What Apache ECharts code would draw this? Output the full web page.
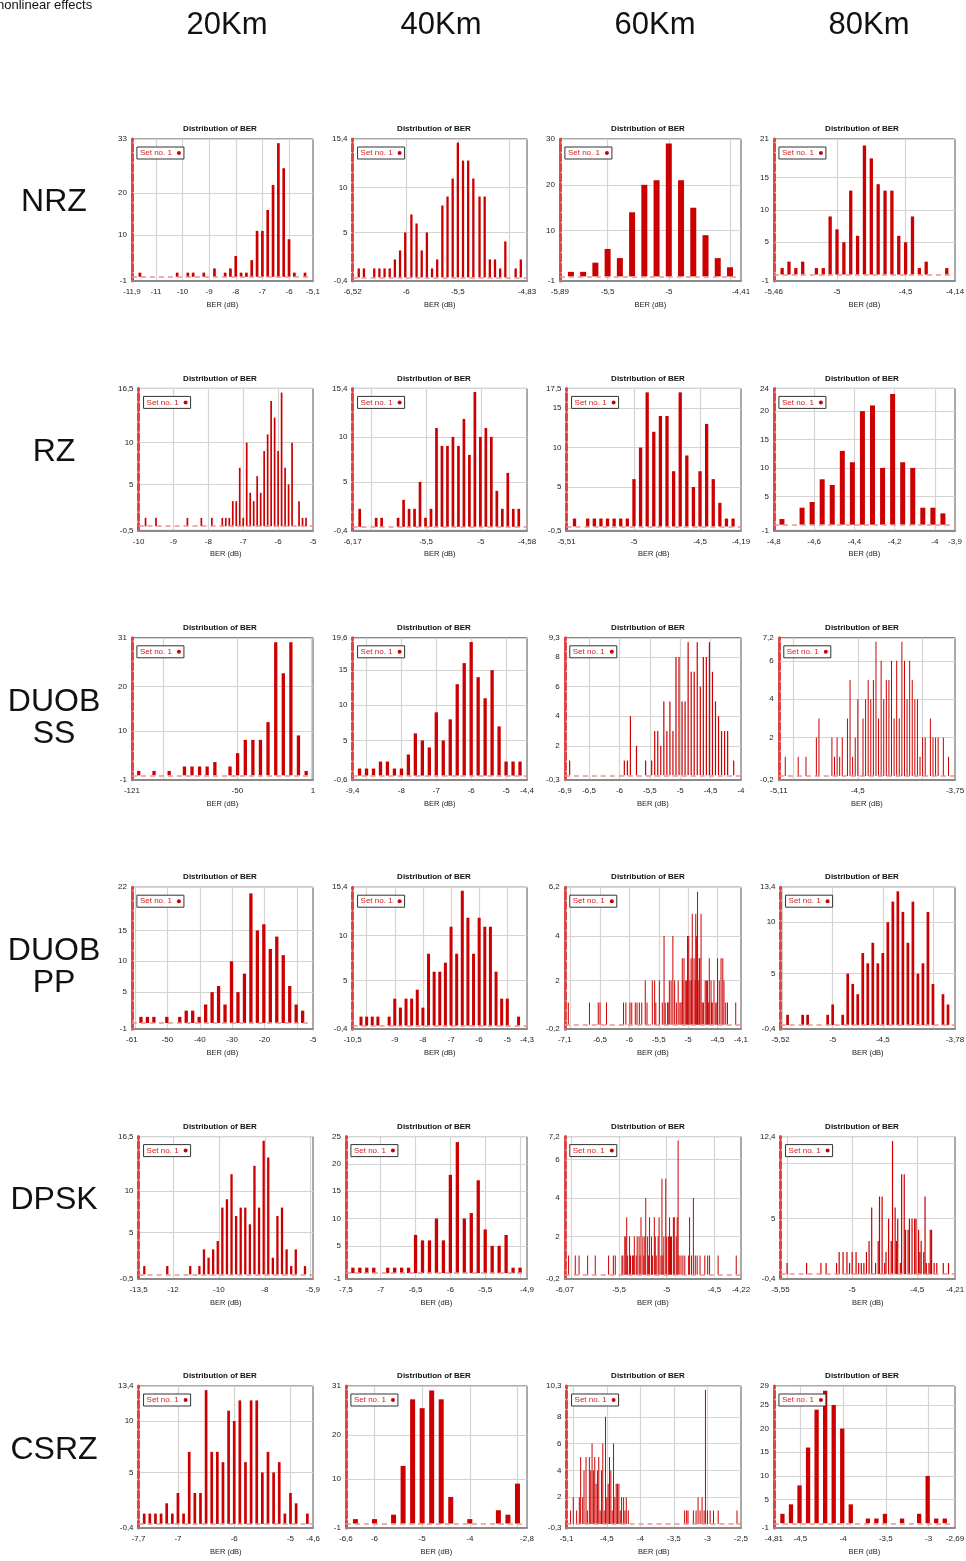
<!DOCTYPE html>
<html>
<head>
<meta charset="utf-8">
<script src="https://cdn.jsdelivr.net/npm/echarts@6/dist/echarts.min.js"></script>
<style>
  html, body { margin: 0; padding: 0; background: #fff; }
  #chart { width: 966px; height: 1561px; }
</style>
</head>
<body>
<div id="chart"></div>
<script>
// Modulation formats (rows) and fibre lengths (columns)
const FORMATS = ['NRZ', 'RZ', 'DUOB\nSS', 'DUOB\nPP', 'DPSK', 'CSRZ'];
const DISTANCES = ['20Km', '40Km', '60Km', '80Km'];

// ---- histogram bins (BER, dB) and counts, one pair per panel ----
const nrz20Bins = [-11.6,-10.2,-9.8,-9.6,-9.2,-8.8,-8.4,-8.2,-8.0,-7.8,-7.6,-7.4,-7.2,-7.0,-6.8,-6.6,-6.4,-6.2,-6.0,-5.8,-5.4];
const nrz20Counts = [1,1,1,1,1,2,1,2,5,1,1,4,11,11,16,22,32,26,9,1,1];
const nrz40Bins = [-6.46,-6.41,-6.31,-6.26,-6.21,-6.16,-6.11,-6.06,-6.01,-5.95,-5.90,-5.85,-5.80,-5.75,-5.70,-5.65,-5.60,-5.55,-5.50,-5.45,-5.40,-5.35,-5.29,-5.24,-5.19,-5.14,-5.09,-5.04,-4.94,-4.89];
const nrz40Counts = [1,1,1,1,1,1,2,3,5,7,6,3,5,1,2,8,9,11,15,13,13,11,9,9,2,2,1,4,1,2];
const nrz60Bins = [-5.8,-5.7,-5.6,-5.5,-5.4,-5.3,-5.2,-5.1,-5.0,-4.9,-4.8,-4.7,-4.6,-4.5];
const nrz60Counts = [1,1,3,6,4,14,20,21,29,21,15,9,4,2];
const nrz80Bins = [-5.40,-5.35,-5.30,-5.25,-5.15,-5.10,-5.05,-5.00,-4.95,-4.90,-4.85,-4.80,-4.75,-4.70,-4.65,-4.60,-4.55,-4.50,-4.45,-4.40,-4.35,-4.20];
const nrz80Counts = [1,2,1,2,1,1,9,7,5,13,6,20,18,14,13,13,6,5,9,1,2,1];

const rz20Bins = [-9.8,-9.5,-8.6,-8.2,-7.9,-7.6,-7.5,-7.4,-7.3,-7.2,-7.1,-7.0,-6.9,-6.8,-6.7,-6.6,-6.5,-6.4,-6.3,-6.2,-6.1,-6.0,-5.9,-5.8,-5.7,-5.6,-5.4,-5.3,-5.2];
const rz20Counts = [1,1,1,1,1,1,1,1,3,3,7,1,10,4,3,6,4,9,11,15,13,9,16,7,5,10,3,1,1];
const rz40Bins = [-6.105,-5.955,-5.905,-5.755,-5.705,-5.655,-5.605,-5.555,-5.505,-5.455,-5.405,-5.355,-5.305,-5.255,-5.205,-5.155,-5.105,-5.055,-5.005,-4.955,-4.905,-4.855,-4.805,-4.755,-4.705,-4.655];
const rz40Counts = [2,1,1,1,3,2,2,5,1,2,11,9,9,10,9,12,8,15,10,11,10,4,2,6,2,2];
const rz60Bins = [-5.45,-5.35,-5.30,-5.25,-5.20,-5.15,-5.10,-5.05,-5.00,-4.95,-4.90,-4.85,-4.80,-4.75,-4.70,-4.65,-4.60,-4.55,-4.50,-4.45,-4.40,-4.35,-4.30,-4.25];
const rz60Counts = [1,1,1,1,1,1,1,1,6,10,17,12,14,14,7,17,9,5,7,13,6,3,1,1];
const rz80Bins = [-4.76,-4.66,-4.61,-4.56,-4.51,-4.46,-4.41,-4.36,-4.31,-4.26,-4.21,-4.16,-4.11,-4.06,-4.01,-3.96];
const rz80Counts = [1,3,4,8,7,13,11,20,21,10,23,11,10,3,3,2];

const duobss20Bins = [-116.4,-106.1,-95.9,-85.6,-80.5,-75.4,-70.3,-65.1,-54.9,-49.8,-44.6,-39.5,-34.4,-29.3,-24.1,-19.0,-13.9,-8.8,-3.6];
const duobss20Counts = [1,1,1,2,2,2,2,3,2,5,8,8,8,12,30,23,30,9,1];
const duobss40Bins = [-9.2,-9.0,-8.8,-8.6,-8.4,-8.2,-8.0,-7.8,-7.6,-7.4,-7.2,-7.0,-6.8,-6.6,-6.4,-6.2,-6.0,-5.8,-5.6,-5.4,-5.2,-5.0,-4.8,-4.6];
const duobss40Counts = [1,1,1,2,2,1,1,3,6,5,4,9,5,8,13,16,19,14,11,15,7,2,2,2];
const duobss60Bins = [-6.82,-5.92,-5.87,-5.82,-5.72,-5.57,-5.47,-5.42,-5.37,-5.32,-5.27,-5.22,-5.17,-5.12,-5.07,-5.02,-4.97,-4.92,-4.87,-4.82,-4.77,-4.72,-4.67,-4.62,-4.57,-4.52,-4.47,-4.42,-4.37,-4.32,-4.27,-4.22,-4.12];
const duobss60Counts = [1,1,1,4,2,1,1,3,3,2,5,3,5,3,8,8,5,5,9,7,7,9,6,8,8,9,7,5,4,3,3,3,1];
const duobss80Bins = [-5.06,-4.96,-4.90,-4.82,-4.80,-4.70,-4.68,-4.66,-4.64,-4.62,-4.58,-4.56,-4.54,-4.52,-4.50,-4.46,-4.44,-4.42,-4.40,-4.38,-4.36,-4.34,-4.32,-4.30,-4.28,-4.26,-4.24,-4.22,-4.20,-4.18,-4.16,-4.14,-4.12,-4.10,-4.08,-4.06,-4.04,-4.02,-4.00,-3.98,-3.94,-3.92,-3.90,-3.88,-3.84,-3.80];
const duobss80Counts = [1,1,1,2,3,2,1,2,1,2,3,5,1,2,4,3,4,5,4,5,7,3,6,4,5,5,6,3,6,3,7,6,4,6,5,4,4,1,2,2,3,2,2,2,2,1];

const duobpp20Bins = [-58.2,-56.2,-54.2,-50.2,-46.2,-44.2,-42.2,-40.2,-38.2,-36.2,-34.2,-32.2,-30.2,-28.2,-26.2,-24.2,-22.2,-20.2,-18.2,-16.2,-14.2,-12.2,-10.2,-8.2];
const duobpp20Counts = [1,1,1,1,1,2,2,1,3,5,6,3,10,5,8,21,15,16,12,14,11,6,3,2];
const duobpp40Bins = [-10.2,-10.0,-9.8,-9.6,-9.2,-9.0,-8.8,-8.6,-8.4,-8.2,-8.0,-7.8,-7.6,-7.4,-7.2,-7.0,-6.8,-6.6,-6.4,-6.2,-6.0,-5.8,-5.6,-5.4,-5.2,-5.0,-4.6];
const duobpp40Counts = [1,1,1,1,1,3,2,3,3,4,2,8,6,6,7,11,8,15,12,8,12,11,11,6,3,3,1];
const duobpp60Bins = [-7.04,-6.68,-6.53,-6.50,-6.39,-6.10,-6.06,-5.99,-5.96,-5.90,-5.87,-5.83,-5.79,-5.73,-5.70,-5.61,-5.57,-5.55,-5.49,-5.44,-5.41,-5.39,-5.35,-5.34,-5.32,-5.29,-5.26,-5.23,-5.20,-5.17,-5.14,-5.12,-5.10,-5.09,-5.07,-5.04,-5.03,-5.01,-4.99,-4.97,-4.95,-4.94,-4.93,-4.90,-4.88,-4.87,-4.86,-4.84,-4.83,-4.81,-4.80,-4.78,-4.76,-4.74,-4.71,-4.69,-4.67,-4.65,-4.64,-4.61,-4.60,-4.59,-4.56,-4.53,-4.51,-4.50,-4.47,-4.44,-4.41,-4.39,-4.36,-4.33,-4.19];
const duobpp60Counts = [1,1,1,1,1,1,1,1,1,1,1,1,1,2,1,2,2,1,2,1,4,1,1,1,2,2,4,2,1,2,1,1,3,2,3,2,2,4,4,2,3,2,5,3,2,5,4,6,2,3,3,5,1,1,2,2,2,1,3,2,1,1,2,1,1,3,2,3,3,2,1,1,1];
const duobpp80Bins = [-5.45,-5.30,-5.25,-5.05,-5.00,-4.90,-4.85,-4.80,-4.75,-4.70,-4.65,-4.60,-4.55,-4.50,-4.45,-4.40,-4.35,-4.30,-4.25,-4.20,-4.15,-4.10,-4.05,-4.00,-3.90,-3.85];
const duobpp80Counts = [1,1,1,1,2,1,5,4,3,7,6,8,6,7,10,12,13,11,8,12,5,6,11,4,3,2];

const dpsk20Bins = [-13.25,-12.25,-11.25,-10.85,-10.65,-10.45,-10.25,-10.05,-9.85,-9.65,-9.45,-9.25,-9.05,-8.85,-8.65,-8.45,-8.25,-8.05,-7.85,-7.65,-7.45,-7.25,-7.05,-6.85,-6.65,-6.25];
const dpsk20Counts = [1,1,1,1,3,2,3,4,8,9,12,7,8,8,6,13,8,16,14,2,7,8,3,1,3,1];
const dpsk40Bins = [-7.4,-7.3,-7.2,-7.1,-6.9,-6.8,-6.7,-6.6,-6.5,-6.4,-6.3,-6.2,-6.1,-6.0,-5.9,-5.8,-5.7,-5.6,-5.5,-5.4,-5.3,-5.2,-5.1,-5.0];
const dpsk40Counts = [1,1,1,1,1,1,1,1,7,6,6,10,6,18,24,10,11,17,8,5,5,7,1,1];
const dpsk60Bins = [-6.03,-5.96,-5.92,-5.83,-5.75,-5.61,-5.56,-5.54,-5.47,-5.46,-5.44,-5.43,-5.42,-5.41,-5.39,-5.38,-5.36,-5.35,-5.34,-5.32,-5.31,-5.29,-5.28,-5.27,-5.25,-5.24,-5.23,-5.22,-5.20,-5.19,-5.18,-5.16,-5.15,-5.13,-5.12,-5.11,-5.09,-5.08,-5.06,-5.05,-5.04,-5.03,-5.01,-5.00,-4.98,-4.97,-4.96,-4.95,-4.93,-4.92,-4.90,-4.89,-4.88,-4.87,-4.85,-4.83,-4.81,-4.77,-4.76,-4.74,-4.72,-4.70,-4.68,-4.65,-4.60,-4.57,-4.55,-4.46,-4.27];
const dpsk60Counts = [1,1,1,1,1,1,1,1,1,1,2,2,3,1,2,1,1,1,2,1,2,2,1,3,2,1,2,4,2,1,3,2,1,3,2,1,2,3,1,5,1,2,5,2,2,3,2,2,3,3,2,3,7,1,1,1,1,1,3,1,4,1,1,1,1,1,1,1,1];
const dpsk80Bins = [-5.50,-5.35,-5.24,-5.20,-5.12,-5.10,-5.07,-5.04,-5.02,-5.00,-4.97,-4.95,-4.93,-4.91,-4.89,-4.87,-4.85,-4.82,-4.80,-4.79,-4.77,-4.75,-4.74,-4.72,-4.70,-4.69,-4.67,-4.66,-4.65,-4.63,-4.62,-4.60,-4.59,-4.57,-4.56,-4.54,-4.52,-4.51,-4.49,-4.48,-4.47,-4.45,-4.44,-4.43,-4.41,-4.40,-4.39,-4.37,-4.35,-4.30,-4.26];
const dpsk80Counts = [1,1,1,1,1,2,2,2,1,2,2,1,1,1,2,3,6,1,3,7,7,1,2,5,3,12,6,3,5,1,9,9,4,4,5,5,5,5,4,2,3,2,7,1,1,4,4,1,1,1,1];

const csrz20Bins = [-7.6,-7.5,-7.4,-7.3,-7.2,-7.1,-7.0,-6.9,-6.8,-6.7,-6.6,-6.5,-6.4,-6.3,-6.2,-6.1,-6.0,-5.9,-5.8,-5.7,-5.6,-5.5,-5.4,-5.3,-5.2,-5.1,-5.0,-4.9,-4.7];
const csrz20Counts = [1,1,1,1,2,1,3,1,7,3,3,13,7,7,6,11,10,12,6,12,12,5,7,5,6,1,3,2,1];
const csrz40Bins = [-6.4,-6.0,-5.6,-5.4,-5.2,-5.0,-4.8,-4.6,-4.4,-4.0,-3.4,-3.2,-3.0];
const csrz40Counts = [1,1,2,13,28,26,30,28,6,1,3,2,9];
const csrz60Bins = [-5.04,-5.00,-4.95,-4.91,-4.89,-4.86,-4.84,-4.81,-4.79,-4.76,-4.74,-4.72,-4.70,-4.68,-4.66,-4.64,-4.62,-4.60,-4.58,-4.56,-4.54,-4.52,-4.50,-4.48,-4.46,-4.44,-4.42,-4.40,-4.38,-4.36,-4.34,-4.32,-4.30,-4.28,-4.25,-4.23,-4.21,-4.18,-3.34,-3.31,-3.29,-3.21,-3.17,-3.14,-3.11,-3.08,-3.05,-3.03,-3.00,-2.96,-2.91,-2.84,-2.56];
const csrz60Counts = [1,2,1,2,5,2,4,5,1,5,4,6,4,5,3,4,5,1,4,6,1,8,2,3,5,4,1,6,2,3,3,3,1,2,2,1,2,1,1,1,1,1,1,2,1,2,1,10,1,1,1,1,1];
const csrz80Bins = [-4.71,-4.61,-4.51,-4.41,-4.31,-4.21,-4.11,-4.01,-3.91,-3.71,-3.61,-3.51,-3.31,-3.11,-3.01,-2.91,-2.81];
const csrz80Counts = [2,4,8,16,24,28,25,20,4,1,1,2,1,2,10,1,1];

// ---- axis ranges and tick labels, panel order: row by row, 20Km..80Km ----
const X_RANGE = [
  [-11.9,-5.1],[-6.52,-4.83],[-5.89,-4.41],[-5.46,-4.14],
  [-10,-5],[-6.17,-4.58],[-5.51,-4.19],[-4.8,-3.9],
  [-121,1],[-9.4,-4.4],[-6.9,-4],[-5.11,-3.75],
  [-61,-5],[-10.5,-4.3],[-7.1,-4.1],[-5.52,-3.78],
  [-13.5,-5.9],[-7.5,-4.9],[-6.07,-4.22],[-5.55,-4.21],
  [-7.7,-4.6],[-6.6,-2.8],[-5.1,-2.5],[-4.81,-2.69]
];
const X_LABELS = [
  [-11.9,-11,-10,-9,-8,-7,-6,-5.1],[-6.52,-6,-5.5,-4.83],[-5.89,-5.5,-5,-4.41],[-5.46,-5,-4.5,-4.14],
  [-10,-9,-8,-7,-6,-5],[-6.17,-5.5,-5,-4.58],[-5.51,-5,-4.5,-4.19],[-4.8,-4.6,-4.4,-4.2,-4,-3.9],
  [-121,-50,1],[-9.4,-8,-7,-6,-5,-4.4],[-6.9,-6.5,-6,-5.5,-5,-4.5,-4],[-5.11,-4.5,-3.75],
  [-61,-50,-40,-30,-20,-5],[-10.5,-9,-8,-7,-6,-5,-4.3],[-7.1,-6.5,-6,-5.5,-5,-4.5,-4.1],[-5.52,-5,-4.5,-3.78],
  [-13.5,-12,-10,-8,-5.9],[-7.5,-7,-6.5,-6,-5.5,-4.9],[-6.07,-5.5,-5,-4.5,-4.22],[-5.55,-5,-4.5,-4.21],
  [-7.7,-7,-6,-5,-4.6],[-6.6,-6,-5,-4,-2.8],[-5.1,-4.5,-4,-3.5,-3,-2.5],[-4.81,-4.5,-4,-3.5,-3,-2.69]
];
const X_GRID = [
  [-11,-10,-9,-8,-7,-6],[-6,-5.5,-5],[-5.5,-5,-4.5],[-5,-4.5],
  [-9,-8,-7,-6],[-6,-5.5,-5],[-5,-4.5],[-4.6,-4.4,-4.2,-4],
  [-100,-50,0],[-9,-8,-7,-6,-5],[-6.5,-6,-5.5,-5,-4.5],[-5,-4.5,-4],
  [-60,-50,-40,-30,-20,-10],[-10,-9,-8,-7,-6,-5],[-7,-6.5,-6,-5.5,-5,-4.5],[-5.5,-5,-4.5,-4],
  [-12,-10,-8,-6],[-7,-6.5,-6,-5.5,-5],[-6,-5.5,-5,-4.5],[-5.5,-5,-4.5],
  [-7,-6,-5],[-6,-5,-4,-3],[-5,-4.5,-4,-3.5,-3],[-4.5,-4,-3.5,-3]
];
const Y_TICKS = [
  [-1,10,20,33],[-0.4,5,10,15.4],[-1,10,20,30],[-1,5,10,15,21],
  [-0.5,5,10,16.5],[-0.4,5,10,15.4],[-0.5,5,10,15,17.5],[-1,5,10,15,20,24],
  [-1,10,20,31],[-0.6,5,10,15,19.6],[-0.3,2,4,6,8,9.3],[-0.2,2,4,6,7.2],
  [-1,5,10,15,22],[-0.4,5,10,15.4],[-0.2,2,4,6.2],[-0.4,5,10,13.4],
  [-0.5,5,10,16.5],[-1,5,10,15,20,25],[-0.2,2,4,6,7.2],[-0.4,5,12.4],
  [-0.4,5,10,13.4],[-1,10,20,31],[-0.3,2,4,6,8,10.3],[-1,5,10,15,20,25,29]
];
// unlabelled horizontal grid lines
const Y_EXTRA_GRID = { 19: [10] };

const PANELS = [
  [nrz20Bins, nrz20Counts], [nrz40Bins, nrz40Counts], [nrz60Bins, nrz60Counts], [nrz80Bins, nrz80Counts],
  [rz20Bins, rz20Counts], [rz40Bins, rz40Counts], [rz60Bins, rz60Counts], [rz80Bins, rz80Counts],
  [duobss20Bins, duobss20Counts], [duobss40Bins, duobss40Counts], [duobss60Bins, duobss60Counts], [duobss80Bins, duobss80Counts],
  [duobpp20Bins, duobpp20Counts], [duobpp40Bins, duobpp40Counts], [duobpp60Bins, duobpp60Counts], [duobpp80Bins, duobpp80Counts],
  [dpsk20Bins, dpsk20Counts], [dpsk40Bins, dpsk40Counts], [dpsk60Bins, dpsk60Counts], [dpsk80Bins, dpsk80Counts],
  [csrz20Bins, csrz20Counts], [csrz40Bins, csrz40Counts], [csrz60Bins, csrz60Counts], [csrz80Bins, csrz80Counts]
];

// ---- styling / layout ----
const BAR_PX = [2.7,2.3,6,3.3, 1.7,2.7,3.3,5, 3.3,3.3,1.2,1, 3.3,3,1,2.7, 2.3,3.3,1,1.2, 2.7,5,1,4.3];
const ROW_LABEL_Y = [202, 452, 718, 967, 1200, 1450];
const FONT = 'Arial, "Liberation Sans", sans-serif';
const RED = '#cc0000';

const fmt = v => String(v).replace('.', ',');
const measure = (() => {
  const ctx = document.createElement('canvas').getContext('2d');
  ctx.font = '8px Arial, "Liberation Sans", sans-serif';
  return s => ctx.measureText(s).width;
})();

const grid = [], xAxis = [], yAxis = [], series = [], legend = [], graphic = [];

graphic.push({ type: 'text', x: -3, y: -1, style: { text: 'nonlinear effects', font: '13px ' + FONT, fill: '#111' } });
DISTANCES.forEach((d, c) => graphic.push({
  type: 'text', x: 227 + 214 * c, y: 25,
  style: { text: d, font: '31px ' + FONT, fill: '#111', align: 'center', verticalAlign: 'middle' }
}));
FORMATS.forEach((f, r) => graphic.push({
  type: 'text', x: 54, y: ROW_LABEL_Y[r],
  style: { text: f, font: '32px ' + FONT, lineHeight: 32, fill: '#111', align: 'center', verticalAlign: 'middle' }
}));

for (let r = 0; r < 6; r++) {
  for (let c = 0; c < 4; c++) {
    const i = r * 4 + c;
    const [bins, counts] = PANELS[i];
    const yt = Y_TICKS[i];
    const labelW = Math.max(...yt.map(v => measure(fmt(v))));
    const left = 118 + 214 * c + labelW + 5;
    const right = 313 + 214 * c;
    const top = 139 + 249.4 * r;
    const height = 142;

    grid.push({
      left: left, top: top, width: right - left, height: height,
      show: true, borderColor: '#555', borderWidth: 1, backgroundColor: '#fff',
      outerBoundsMode: 'none'
    });

    xAxis.push({
      type: 'value', gridIndex: i, min: X_RANGE[i][0], max: X_RANGE[i][1],
      axisLine: { show: true, onZero: false, lineStyle: { color: '#8a8a8a', width: 2 } },
      axisTick: { show: false, customValues: X_GRID[i] },
      splitLine: { show: true, lineStyle: { color: '#d4d4d4', width: 1.2 } },
      axisLabel: { customValues: X_LABELS[i], formatter: fmt, fontSize: 8, fontFamily: FONT, color: '#222', margin: 7 },
      name: 'BER (dB)', nameLocation: 'middle', nameGap: 20,
      nameTextStyle: { fontSize: 7.5, fontFamily: FONT, color: '#222' }
    });

    const ySplit = yt.slice(1).concat(Y_EXTRA_GRID[i] || []);
    yAxis.push({
      type: 'value', gridIndex: i, min: yt[0], max: yt[yt.length - 1],
      axisLine: { show: true, onZero: false, lineStyle: { color: '#e04545', width: 3, type: [7, 3] } },
      axisTick: { show: false, customValues: ySplit },
      splitLine: { show: true, lineStyle: { color: '#d4d4d4', width: 1.2 } },
      axisLabel: { customValues: yt, formatter: fmt, fontSize: 8, fontFamily: FONT, color: '#222', margin: 5 }
    });

    series.push({
      type: 'bar', name: 'Set no. 1', xAxisIndex: i, yAxisIndex: i,
      data: bins.map((b, k) => [b, counts[k]]),
      barWidth: BAR_PX[i],
      itemStyle: { color: RED },
      silent: true,
      markLine: {
        silent: true, symbol: 'none', label: { show: false },
        lineStyle: { color: '#f09090', type: [5, 4], width: 1.5 },
        data: [{ yAxis: 0 }]
      }
    });

    legend.push({
      data: ['Set no. 1'], left: left + 5, top: top + 8,
      align: 'right', icon: 'circle', itemWidth: 4, itemHeight: 4,
      borderColor: '#333', borderWidth: 1, padding: [2, 3, 2, 3],
      backgroundColor: '#fff', selectedMode: false,
      textStyle: { fontSize: 8, fontFamily: FONT, color: '#d42020' }
    });

    graphic.push({
      type: 'text', x: right - 93, y: top - 10,
      style: { text: 'Distribution of BER', font: 'bold 8px ' + FONT, fill: '#111', align: 'center', verticalAlign: 'middle' }
    });
  }
}

const chart = echarts.init(document.getElementById('chart'), null, { renderer: 'canvas' });
chart.setOption({
  animation: false,
  backgroundColor: '#fff',
  textStyle: { fontFamily: FONT },
  grid: grid, xAxis: xAxis, yAxis: yAxis, series: series, legend: legend, graphic: graphic
});
</script>
</body>
</html>
